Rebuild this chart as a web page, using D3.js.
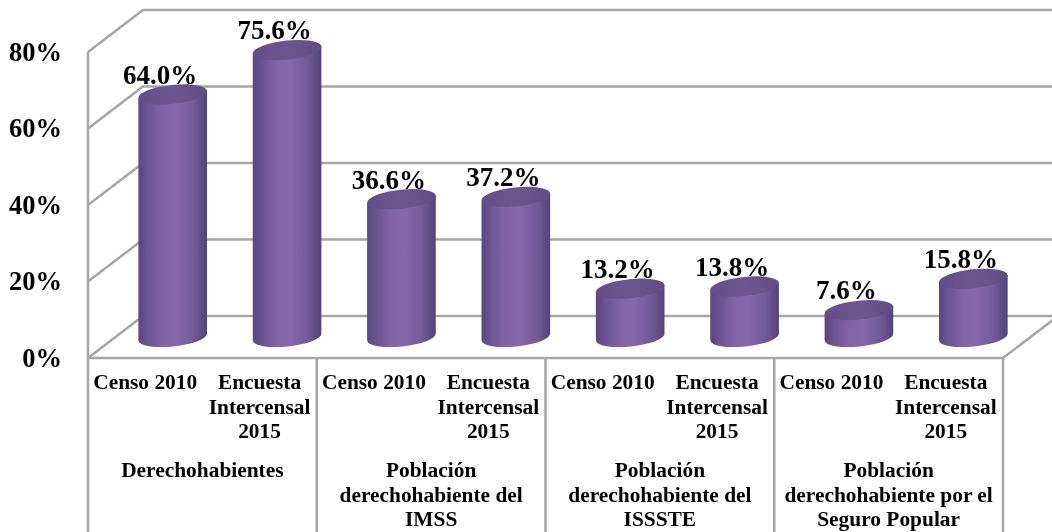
<!DOCTYPE html>
<html>
<head>
<meta charset="utf-8">
<script src="https://cdn.jsdelivr.net/npm/d3@7"></script>
<style>
html, body { margin: 0; padding: 0; background: #fff; }
svg { display: block; }
text { font-family: "Liberation Serif", serif; font-weight: bold; fill: #000; }
</style>
</head>
<body>
<svg id="chart"></svg>
<script>
"use strict";

var width = 1052,
    height = 532;

var groups = ["Derechohabientes", "Población derechohabiente del IMSS", "Población derechohabiente del ISSSTE", "Población derechohabiente por el Seguro Popular"];
var groupLines = [
    ["Derechohabientes"],
    ["Población", "derechohabiente del", "IMSS"],
    ["Población", "derechohabiente del", "ISSSTE"],
    ["Población", "derechohabiente por el", "Seguro Popular"]
];
var sources = ["Censo 2010", "Encuesta Intercensal 2015"];
var sourceLines = [["Censo 2010"], ["Encuesta", "Intercensal", "2015"]];
var values = [64.0, 75.6, 36.6, 37.2, 13.2, 13.8, 7.6, 15.8];
var yTicks = [0, 20, 40, 60, 80];

var left = 88,
    right = 1003,
    floorY = 358,
    topY = 52,
    depthX = 55,
    depthY = 42;

var x0 = d3.scaleBand().domain(groups).range([left, right]);
var x1 = d3.scaleBand().domain(sources).range([0, x0.bandwidth()]);
var y = d3.scaleLinear().domain([0, 80]).range([floorY, topY]);

var svg = d3.select("#chart").attr("width", width).attr("height", height);

var defs = svg.append("defs");

function hGradient(id, stops) {
    var g = defs.append("linearGradient").attr("id", id).attr("x1", 0).attr("x2", 1).attr("y1", 0).attr("y2", 0);
    stops.forEach(function (s) {
        g.append("stop").attr("offset", s[0]).attr("stop-color", s[1]);
    });
}

hGradient("body", [[0, "#5a4680"], [0.12, "#6a5290"], [0.35, "#8264a6"], [0.55, "#8767ab"], [0.8, "#745a98"], [1, "#54427a"]]);
hGradient("cap", [[0, "#644e88"], [0.5, "#6b5590"], [1, "#624d86"]]);
defs.append("filter").attr("id", "soft").append("feGaussianBlur").attr("stdDeviation", 0.7);
defs.append("filter").attr("id", "softText").append("feGaussianBlur").attr("stdDeviation", 0.3);

// walls and floor
var grid = svg.append("g")
    .attr("fill", "none")
    .attr("stroke", "#a6a6a6")
    .attr("stroke-width", 2.5);

yTicks.forEach(function (t) {
    grid.append("path")
        .attr("d", "M" + left + "," + y(t) + "L" + (left + depthX) + "," + (y(t) - depthY) + "L" + (right + depthX) + "," + (y(t) - depthY));
});

grid.append("path")
    .attr("d", "M" + left + "," + y(80) + "L" + left + "," + height);
grid.append("path")
    .attr("d", "M" + left + "," + floorY + "L" + right + "," + floorY + "L" + (right + depthX) + "," + (floorY - depthY));

x0.domain().forEach(function (g) {
    grid.append("path")
        .attr("d", "M" + (x0(g) + x0.bandwidth()) + "," + floorY + "V" + height);
});

// y axis labels
var axis = svg.append("g")
    .attr("transform", "translate(" + left + ",0)")
    .call(d3.axisLeft(y)
        .tickValues(yTicks)
        .tickSize(0)
        .tickPadding(26)
        .tickFormat(function (d) { return d + "%"; }));
axis.select(".domain").remove();
axis.selectAll("text")
    .attr("font-size", 26.5)
    .attr("filter", "url(#softText)")
    .style("font-family", "'Liberation Serif', serif");

// flat list of bars
var bars = [];
groups.forEach(function (g, i) {
    sources.forEach(function (s, j) {
        bars.push({ group: g, source: s, value: values[i * sources.length + j] });
    });
});

function barX(d) {
    return x0(d.group) + x1(d.source) + x1.bandwidth() / 2 + depthX / 2;
}

function barY(v) {
    return y(v) - depthY / 2;
}

// value labels sit behind the caps
svg.append("g").selectAll("text")
    .data(bars)
    .enter()
    .append("text")
    .attr("x", function (d) { return barX(d) - 12.5; })
    .attr("y", function (d) { return barY(d.value) - 8.5; })
    .attr("text-anchor", "middle")
    .attr("font-size", 27)
    .attr("filter", "url(#softText)")
    .text(function (d) { return d.value.toFixed(1) + "%"; });

// cylinders
var rx = 34.5,
    ry = 9.5,
    tilt = 6,
    capDrop = 2.2,
    dx = rx * Math.cos(tilt * Math.PI / 180),
    dy = rx * Math.sin(tilt * Math.PI / 180);

var cyl = svg.append("g").selectAll("g")
    .data(bars)
    .enter()
    .append("g")
    .attr("filter", "url(#soft)");

cyl.append("path")
    .attr("fill", "url(#body)")
    .attr("d", function (d) {
        var cx = barX(d), top = barY(d.value) + capDrop, base = barY(0);
        return "M" + (cx - dx) + "," + (top + dy) +
            "L" + (cx - dx) + "," + (base + dy) +
            "A" + rx + "," + ry + " " + (-tilt) + " 0 0 " + (cx + dx) + "," + (base - dy) +
            "L" + (cx + dx) + "," + (top - dy) + "Z";
    });

cyl.append("ellipse")
    .attr("fill", "url(#cap)")
    .attr("rx", rx)
    .attr("ry", ry)
    .attr("transform", function (d) {
        return "translate(" + barX(d) + "," + (barY(d.value) + capDrop) + ") rotate(" + (-tilt) + ")";
    });

// category labels
var cats = svg.append("g").attr("text-anchor", "middle").attr("font-size", 21.4).attr("filter", "url(#softText)");

groups.forEach(function (g, i) {
    sources.forEach(function (s, j) {
        var cx = x0(g) + x1(s) + x1.bandwidth() / 2;
        sourceLines[j].forEach(function (line, k) {
            cats.append("text").attr("x", cx).attr("y", 389 + k * 24.5).text(line);
        });
    });
    groupLines[i].forEach(function (line, k) {
        cats.append("text").attr("x", x0(g) + x0.bandwidth() / 2).attr("y", 477 + k * 24.5).text(line);
    });
});
</script>
</body>
</html>
